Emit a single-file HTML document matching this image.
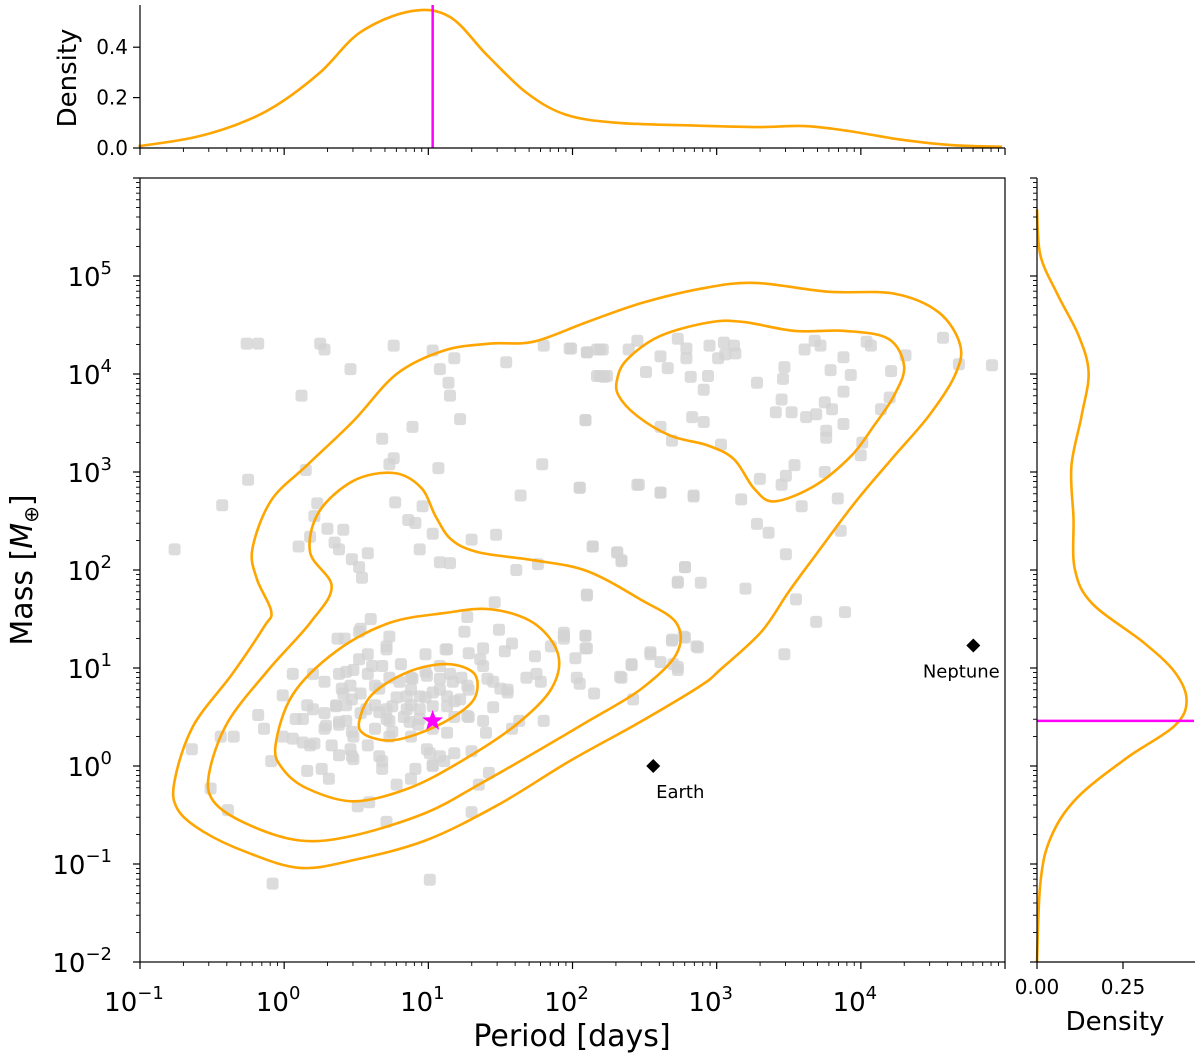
<!DOCTYPE html>
<html><head><meta charset="utf-8">
<style>
html,body{margin:0;padding:0;background:#fff;}
svg{display:block;font-family:"DejaVu Sans","Liberation Sans",sans-serif;}
</style></head>
<body>
<svg id="fig" width="1200" height="1061" viewBox="0 0 1200 1061" xmlns="http://www.w3.org/2000/svg">
<g id="scatter"></g>
<g id="contours"></g>
<g id="marks"></g>
<rect x="140" y="178" width="865" height="784" fill="none" stroke="#000" stroke-width="1.2"/>
<g id="axes"></g>
<text x="572" y="1046" font-size="30" text-anchor="middle">Period [days]</text>
<text transform="translate(32,570) rotate(-90)" font-size="30" text-anchor="middle">Mass [<tspan font-style="italic">M</tspan><tspan font-size="20" dy="6">⊕</tspan><tspan dy="-6">]</tspan></text>
<text transform="translate(76,78) rotate(-90)" font-size="26" text-anchor="middle">Density</text>
<text x="1115" y="1030" font-size="26" text-anchor="middle">Density</text>
</svg>
<script>
// ---- data (log10 units) ----
const ptLogP=[-0.26,-0.18,0.25,0.28,0.76,1.03,1.18,1.08,1.14,1.15,0.46,0.12,1.22,0.89,0.68,0.76,0.73,1.07,1.54,1.80,1.99,2.10,2.19,2.17,2.22,2.09,1.79,2.05,1.64,2.46,2.61,2.84,0.15,-0.25,-0.43,-0.76,0.23,0.21,0.30,0.41,0.35,0.38,0.10,0.18,0.47,0.52,0.54,0.58,0.77,0.96,0.86,0.91,1.03,0.94,1.08,1.15,1.30,1.47,1.61,1.76,2.14,2.31,2.34,2.10,2.78,2.73,1.46,1.27,0.60,0.53,0.37,0.42,1.25,1.49,1.94,1.94,2.09,2.09,1.85,1.74,1.58,1.53,1.38,1.28,1.12,0.98,0.71,0.73,0.58,0.48,0.38,0.28,0.20,0.06,-0.01,0.16,0.13,0.08,-0.18,-0.14,-0.35,-0.44,-0.64,-0.01,0.06,0.21,0.28,0.36,0.41,0.46,0.58,0.68,0.81,0.88,0.98,1.08,1.15,1.23,1.38,1.45,1.55,1.68,1.75,1.78,1.80,1.63,1.58,1.45,1.38,1.28,1.18,1.08,0.98,0.88,0.78,0.71,0.63,0.73,0.83,0.93,1.03,1.13,1.18,1.30,1.40,1.01,1.11,1.03,0.91,0.88,0.78,0.68,0.68,0.58,0.48,0.38,0.33,0.46,0.48,0.38,0.26,0.16,0.31,0.18,-0.09,-0.51,-0.39,0.51,0.59,0.71,1.30,1.35,1.42,-0.08,1.01,2.54,2.41,2.34,2.42,2.70,2.73,2.15,2.03,2.05,2.77,2.86,2.69,0.43,0.53,0.63,0.73,0.88,1.18,1.28,0.53,0.43,0.28,0.63,0.73,0.88,
1.98,2.10,2.17,2.21,2.19,2.24,2.39,2.45,2.61,2.73,2.79,2.79,2.66,2.51,2.82,2.94,2.91,2.95,3.05,3.12,3.13,3.01,3.06,3.61,3.68,3.72,3.88,3.79,3.93,4.04,4.07,4.21,4.31,4.57,4.68,4.91,3.47,3.46,3.28,3.45,3.41,3.52,3.62,3.69,3.75,3.80,3.88,3.88,3.76,3.76,4.20,4.14,4.01,4.00,3.54,3.48,3.45,3.30,3.75,3.84,3.59,3.17,2.84,2.61,2.45,2.05,2.09,2.83,2.91,3.03,2.61,2.69,3.28,3.36,3.86,3.48,2.14,2.31,2.34,2.78,2.73,2.89,3.20,2.10,3.55,3.89,3.69,3.47,2.69,2.87,2.78,2.54,2.41,2.61,2.73,2.33,2.09,2.10,2.02,1.94,
0.80,0.89,0.99,1.08,1.17,1.27,0.85,0.94,1.03,1.13,1.22,0.75,0.85,0.94,1.03,1.13,0.66,0.71,0.87,0.94,1.27,0.75,0.66,0.57,0.52,0.61,0.43,0.40,0.47,0.36,0.38,0.47,0.29,0.20,0.13,0.47,0.66,0.99,1.08,1.03,1.41,1.50,1.55,1.36,1.13,0.71,0.52];
const ptLogM=[4.31,4.31,4.31,4.25,4.29,4.24,4.16,4.05,3.91,3.78,4.05,3.78,3.54,3.46,3.34,3.14,3.08,3.04,4.12,4.29,4.26,4.22,4.25,3.98,3.97,3.53,3.08,2.84,2.76,2.87,2.79,2.76,3.02,2.92,2.66,2.21,2.68,2.55,2.42,2.41,2.28,2.21,2.24,2.34,2.11,2.03,1.92,2.17,2.69,2.65,2.51,2.48,2.37,2.21,2.08,2.07,2.31,2.36,2.00,2.06,2.24,2.18,2.10,1.75,2.03,1.88,1.67,1.52,1.50,1.40,1.30,1.30,1.37,1.39,1.36,1.30,1.33,1.20,1.22,1.12,1.25,1.17,1.20,1.15,1.19,1.14,1.22,1.32,1.14,0.98,0.94,0.86,0.94,0.94,0.72,0.62,0.48,0.48,0.52,0.38,0.30,0.30,0.17,0.30,0.28,0.23,0.54,0.62,0.74,0.82,0.94,1.02,1.04,0.90,0.96,1.02,0.94,0.90,1.02,0.86,0.78,0.90,0.94,0.86,0.46,0.46,0.38,0.60,0.46,0.50,0.66,0.78,0.70,0.78,0.70,0.58,0.62,0.46,0.50,0.42,0.38,0.34,0.13,0.15,0.34,0.13,0.05,0.01,-0.03,-0.13,-0.19,0.05,-0.03,0.21,0.30,0.42,0.21,0.17,0.07,0.11,-0.03,-0.05,-0.13,0.21,0.05,-0.23,-0.45,-0.41,-0.37,-0.57,-0.47,-0.19,-0.07,-1.20,-1.16,1.16,1.04,0.90,0.68,1.04,0.98,0.74,0.90,0.84,1.32,1.22,1.28,0.62,0.74,0.82,0.90,0.62,0.50,0.78,0.54,0.46,0.38,0.38,0.30,0.30,
4.26,4.22,4.25,4.25,3.98,3.98,4.25,4.34,4.18,4.36,4.26,4.16,4.06,4.02,3.97,3.98,3.84,4.29,4.32,4.29,4.21,4.16,4.20,4.25,4.34,4.29,4.17,4.04,3.99,4.33,4.29,4.03,4.19,4.37,4.10,4.09,4.07,3.95,3.91,3.74,3.61,3.61,3.56,3.59,3.71,3.64,3.82,3.49,3.42,3.35,3.76,3.64,3.30,3.17,3.07,2.96,2.87,2.93,3.00,2.73,2.65,2.72,2.75,2.79,2.87,2.84,3.53,3.56,3.51,3.28,3.46,3.32,2.47,2.38,2.40,2.16,2.24,2.18,2.09,2.03,1.87,1.87,1.81,1.74,1.70,1.57,1.47,1.14,1.29,1.21,1.31,1.14,1.03,1.06,1.01,0.91,1.33,1.20,1.10,1.33,
0.86,0.89,0.92,0.89,0.86,0.82,0.71,0.71,0.75,0.71,0.68,0.61,0.58,0.58,0.61,0.61,0.55,0.48,0.45,0.48,0.51,0.35,0.79,0.58,1.09,1.02,0.96,0.79,0.68,0.61,0.45,0.35,0.41,0.58,0.24,0.10,0.10,0.17,0.10,0.00,0.89,0.79,0.75,1.09,1.19,1.19,1.37];

const c1P=[-0.76,-0.63,-0.36,-0.14,-0.09,-0.19,-0.22,-0.09,0.16,0.48,0.78,1.11,1.43,1.73,2.10,2.47,2.89,3.26,3.77,4.23,4.54,4.69,4.65,4.47,4.23,3.96,3.68,3.50,3.31,3.03,2.89,2.47,1.98,1.48,0.98,0.48,0.11,-0.26,-0.56,-0.74];
const c1M=[-0.15,0.41,0.94,1.42,1.58,1.91,2.22,2.71,3.07,3.52,4.00,4.24,4.31,4.33,4.53,4.72,4.87,4.93,4.84,4.82,4.63,4.29,3.98,3.57,3.16,2.69,2.14,1.78,1.37,0.99,0.82,0.45,0.05,-0.40,-0.76,-0.96,-1.04,-0.88,-0.67,-0.44];
const c2P=[-0.52,-0.39,-0.11,0.18,0.33,0.18,0.24,0.48,0.76,0.95,1.05,1.16,1.35,1.73,2.10,2.47,2.72,2.72,2.47,2.10,1.73,1.35,0.98,0.48,0.11,-0.26,-0.49];
const c2M=[-0.07,0.45,0.98,1.46,1.83,2.18,2.59,2.91,2.99,2.84,2.55,2.31,2.18,2.10,1.99,1.70,1.46,1.14,0.78,0.45,0.13,-0.19,-0.48,-0.71,-0.76,-0.59,-0.36];
const c3P=[-0.06,0.06,0.36,0.73,1.11,1.43,1.73,1.90,1.85,1.60,1.23,0.86,0.48,0.16,-0.01];
const c3M=[0.21,0.73,1.17,1.46,1.56,1.60,1.46,1.14,0.78,0.41,0.05,-0.23,-0.36,-0.23,-0.03];
const c4P=[0.52,0.61,0.86,1.13,1.32,1.32,1.16,0.93,0.73,0.56];
const c4M=[0.45,0.73,0.96,1.04,0.94,0.69,0.49,0.33,0.26,0.32];
const c5P=[2.31,2.38,2.61,2.96,3.19,3.54,3.89,4.19,4.30,4.23,4.09,3.93,3.68,3.40,3.26,3.12,2.94,2.68,2.45,2.32];
const c5M=[3.95,4.15,4.39,4.53,4.53,4.44,4.44,4.36,4.08,3.78,3.47,3.16,2.86,2.70,2.83,3.13,3.27,3.37,3.57,3.78];

const topKdeP=[-1.01,-0.64,-0.33,-0.06,0.25,0.53,0.88,1.15,1.41,1.68,1.95,2.31,2.85,3.29,3.61,3.92,4.28,4.64,4.98];
const topKdeD=[0.007,0.04,0.093,0.167,0.30,0.46,0.543,0.52,0.367,0.22,0.133,0.10,0.089,0.083,0.087,0.067,0.033,0.011,0.005];
const rightKdeM=[5.68,5.21,4.81,4.40,4.02,3.58,3.06,2.53,2.01,1.66,1.26,0.96,0.67,0.41,0.08,-0.33,-0.73,-1.19,-2.0];
const rightKdeD=[0,0.01,0.06,0.12,0.15,0.13,0.10,0.106,0.11,0.16,0.31,0.40,0.435,0.40,0.26,0.115,0.04,0.01,0];

const targetLogP=1.03, targetLogM=0.46;
const earth=[2.56,0.0], neptune=[4.78,1.23];
const xTickExp=[-1,0,1,2,3,4];
const yTickExp=[-2,-1,0,1,2,3,4,5];
const topTicks=[0.0,0.2,0.4];
const topTickLabels=["0.0","0.2","0.4"];
const rightTicks=[0,0.25];
const rightTickLabels=["0.00","0.25"];

// ---- scales ----
const X=lp=>140+(lp+1)*144.17;
const Y=lm=>962-(lm+2)*98;
const TD=d=>148-d*252;
const RD=d=>1037+d*344;

const NS="http://www.w3.org/2000/svg";
function mk(tag,attrs,parent){const e=document.createElementNS(NS,tag);for(const k in attrs)e.setAttribute(k,attrs[k]);parent.appendChild(e);return e;}
function smoothClosed(pts){
  const n=pts.length;let d=`M${pts[0][0].toFixed(1)},${pts[0][1].toFixed(1)}`;
  for(let i=0;i<n;i++){const p0=pts[(i-1+n)%n],p1=pts[i],p2=pts[(i+1)%n],p3=pts[(i+2)%n];
    const a=[p1[0]+(p2[0]-p0[0])/6,p1[1]+(p2[1]-p0[1])/6],b=[p2[0]-(p3[0]-p1[0])/6,p2[1]-(p3[1]-p1[1])/6];
    d+=`C${a[0].toFixed(1)},${a[1].toFixed(1)} ${b[0].toFixed(1)},${b[1].toFixed(1)} ${p2[0].toFixed(1)},${p2[1].toFixed(1)}`;}
  return d+"Z";}
function smoothOpen(pts){
  const n=pts.length;let d=`M${pts[0][0].toFixed(1)},${pts[0][1].toFixed(1)}`;
  for(let i=0;i<n-1;i++){const p0=pts[Math.max(i-1,0)],p1=pts[i],p2=pts[i+1],p3=pts[Math.min(i+2,n-1)];
    const a=[p1[0]+(p2[0]-p0[0])/6,p1[1]+(p2[1]-p0[1])/6],b=[p2[0]-(p3[0]-p1[0])/6,p2[1]-(p3[1]-p1[1])/6];
    d+=`C${a[0].toFixed(1)},${a[1].toFixed(1)} ${b[0].toFixed(1)},${b[1].toFixed(1)} ${p2[0].toFixed(1)},${p2[1].toFixed(1)}`;}
  return d;}

// scatter
const sc=document.getElementById('scatter');
for(let i=0;i<ptLogP.length;i++){
  const r=mk('rect',{x:(X(ptLogP[i])-6).toFixed(1),y:(Y(ptLogM[i])-6).toFixed(1),width:12,height:12,rx:3,fill:'#d3d3d3','fill-opacity':0.8},sc);
  
  
}
// contours
const cg=document.getElementById('contours');
[[c1P,c1M,'contour-outer'],[c2P,c2M,'contour-second'],[c3P,c3M,'contour-third'],[c4P,c4M,'contour-inner'],[c5P,c5M,'contour-giant-planets']].forEach(([ps,ms,nm])=>{
  const pts=ps.map((p,i)=>[X(p),Y(ms[i])]);
  const e=mk('path',{d:smoothClosed(pts),fill:'none',stroke:'#ffa500','stroke-width':2.6},cg);
  
  
});
// marks
const mg=document.getElementById('marks');
function starPts(cx,cy,R,r){let s=[];for(let k=0;k<10;k++){const a=-Math.PI/2+k*Math.PI/5,rr=k%2?r:R;s.push((cx+rr*Math.cos(a)).toFixed(1)+','+(cy+rr*Math.sin(a)).toFixed(1));}return s.join(' ');}
const st=mk('polygon',{points:starPts(X(targetLogP),Y(targetLogM),11,4.5),fill:'#ff00ff'},mg);


[[earth,'Earth','earth'],[neptune,'Neptune','neptune']].forEach(([pt,lab,nm])=>{
  const cx=X(pt[0]),cy=Y(pt[1]);
  const dm=mk('polygon',{points:`${cx},${cy-7} ${cx+7},${cy} ${cx},${cy+7} ${cx-7},${cy}`,fill:'#000'},mg);
  
  
  const t=mk('text',{x:cx+(nm==='earth'?27:-12),y:cy+32,'font-size':18,'text-anchor':'middle'},mg);
  t.textContent=lab;
  
  
});
// marginals
const topCurve=mk('path',{d:smoothOpen(topKdeP.map((p,i)=>[X(p),TD(topKdeD[i])])),fill:'none',stroke:'#ffa500','stroke-width':2.6},mg);


const vl=mk('line',{x1:X(targetLogP),x2:X(targetLogP),y1:5,y2:148,stroke:'#ff00ff','stroke-width':2.5},mg);


const rightCurve=mk('path',{d:smoothOpen(rightKdeM.map((m,i)=>[RD(rightKdeD[i]),Y(m)])),fill:'none',stroke:'#ffa500','stroke-width':2.6},mg);


const hl=mk('line',{x1:1037,x2:1194,y1:Y(targetLogM),y2:Y(targetLogM),stroke:'#ff00ff','stroke-width':2.5},mg);



// axes
const ax=document.getElementById('axes');
function L(x1,y1,x2,y2,w,nm){const e=mk('line',{x1,y1,x2,y2,stroke:'#000','stroke-width':w||1},ax);return e;}
L(140,5,140,148,1.2,'top-y-spine');L(140,148,1005,148,1.2,'top-x-spine');
L(1037,178,1037,962,1.2,'right-y-spine');L(1037,962,1195,962,1.2,'right-x-spine');
for(let e=-1;e<=5;e++){
  L(X(e),962,X(e),969,1.2,'x-major-tick');L(X(e),148,X(e),155,1.2,'top-major-tick');
  if(e<5)for(let k=2;k<10;k++){const xv=X(e+Math.log10(k));L(xv,962,xv,966,0.9,'x-minor-tick');L(xv,148,xv,152,0.9,'top-minor-tick');}
}
xTickExp.forEach(e=>{
  const t=mk('text',{x:X(e)-6,y:1011,'font-size':26,'text-anchor':'middle'},ax);
  t.innerHTML=`10<tspan dy="-12" font-size="18">${e<0?'−'+(-e):e}</tspan>`;
  
  
});
for(let e=-2;e<=6;e++){
  L(133,Y(e),140,Y(e),1.2,'y-major-tick');L(1030,Y(e),1037,Y(e),1.2,'right-major-tick');
  if(e<6)for(let k=2;k<10;k++){const yv=Y(e+Math.log10(k));L(136,yv,140,yv,0.9,'y-minor-tick');L(1033,yv,1037,yv,0.9,'right-minor-tick');}
}
yTickExp.forEach(e=>{
  const t=mk('text',{x:112,y:Y(e)+10,'font-size':26,'text-anchor':'end'},ax);
  t.innerHTML=`10<tspan dy="-12" font-size="18">${e<0?'−'+(-e):e}</tspan>`;
  
  
});
topTicks.forEach((v,i)=>{
  L(133,TD(v),140,TD(v),1.2,'top-density-tick');
  const t=mk('text',{x:128,y:TD(v)+7,'font-size':20,'text-anchor':'end'},ax);
  t.textContent=topTickLabels[i];
  
  
});
rightTicks.forEach((v,i)=>{
  L(RD(v),962,RD(v),969,1.2,'right-density-tick');
  const t=mk('text',{x:RD(v),y:994,'font-size':20,'text-anchor':'middle'},ax);
  t.textContent=rightTickLabels[i];
  
  
});
</script>
</body></html>
